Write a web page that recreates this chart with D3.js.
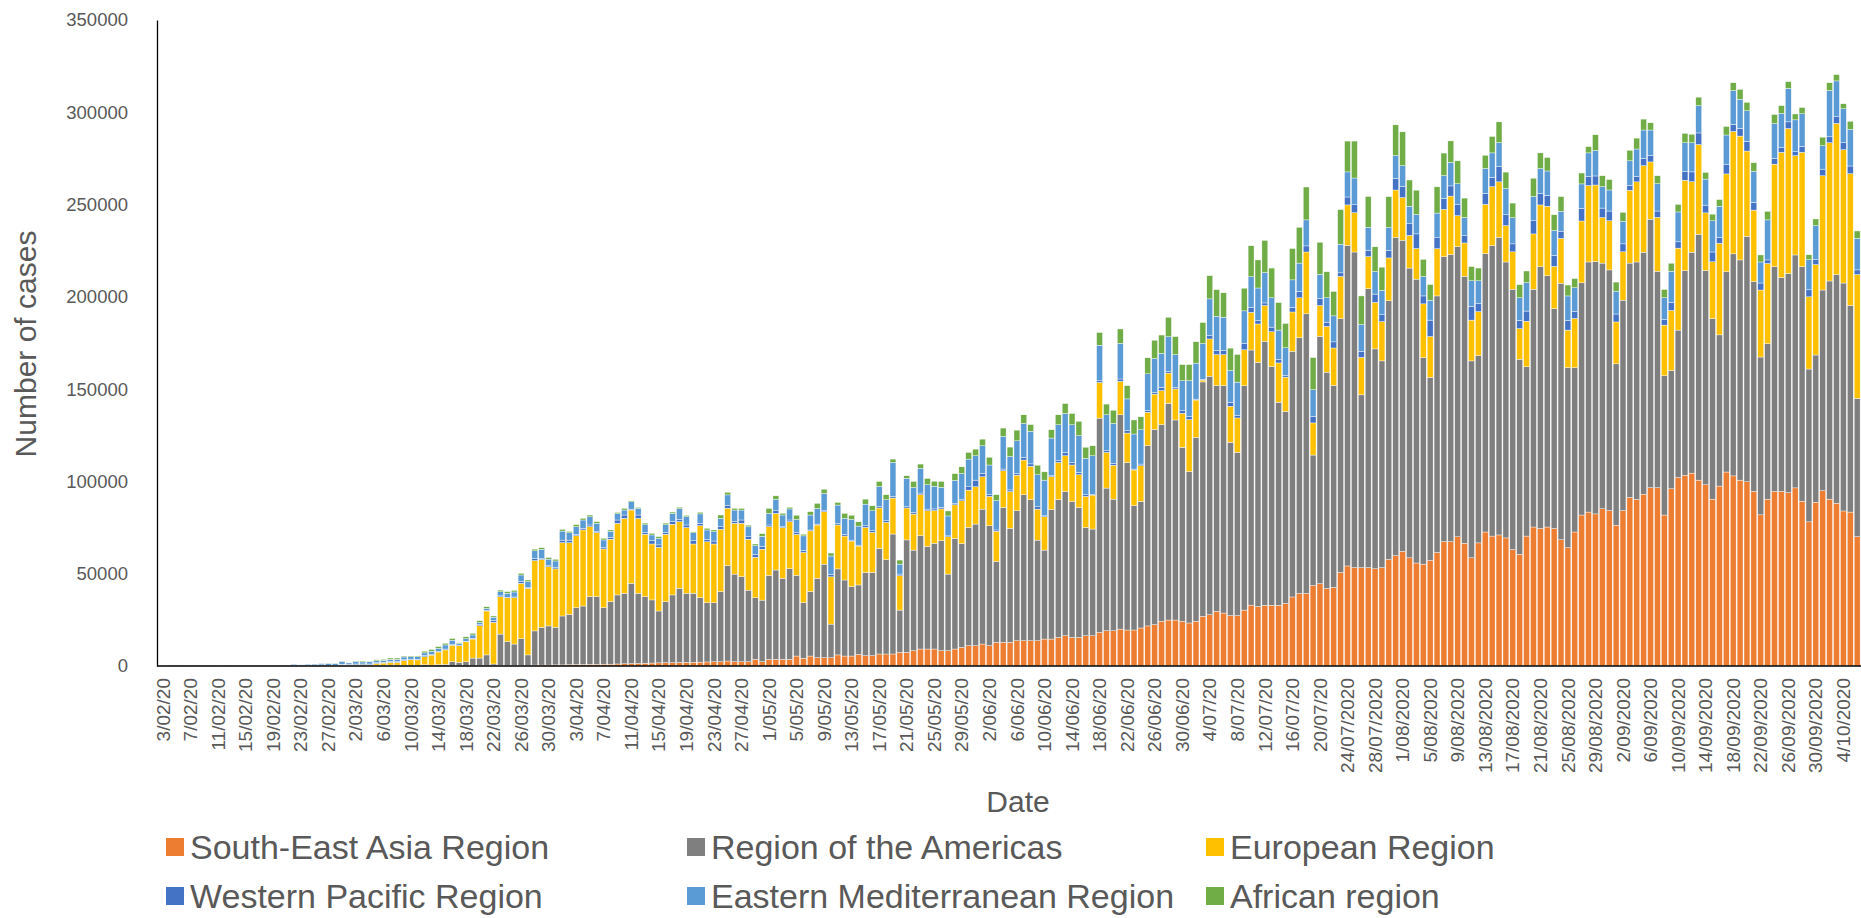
<!DOCTYPE html>
<html>
<head>
<meta charset="utf-8">
<script src="https://cdn.jsdelivr.net/npm/d3@7"></script>
<style>
  body { margin: 0; background: #fff; }
  svg { display: block; font-family: "Liberation Sans", Arial, sans-serif; }
</style>
</head>
<body>
<figure id="casesChart" style="margin:0"></figure>
<script>
// daily cases by WHO region, 3 Feb 2020 .. 7 Oct 2020 (one value per day)
const startDate = new Date(2020, 1, 3);
const dayCount = 248;

const seriesNames = ["South-East Asia Region", "Region of the Americas", "European Region",
  "Western Pacific Region", "Eastern Mediterranean Region", "African region"];
const seriesColors = ["#ED7D31", "#7F7F7F", "#FFC000", "#4472C4", "#5B9BD5", "#70AD47"];

const seaRegion = [
  0,0,0,0,0,0,0,0,0,0,0,0,0,0,0,0,0,0,0,0,0,0,0,0,
  0,0,0,0,0,0,0,100,100,100,100,0,0,0,100,100,100,100,100,100,100,100,200,200,200,300,300,300,400,400,500,500,500,600,600,700,800,800,
  900,900,1000,1000,1100,1200,1300,1400,1500,1600,1700,1800,1800,1900,2000,2000,2100,2200,2300,2300,
  2700,2300,2300,2300,3600,2300,3600,3600,3600,3600,5400,4200,5400,4500,4500,4500,6000,5400,5400,6300,
  5600,5600,6500,6500,6500,7400,7400,8300,9200,9200,9200,8300,8300,9200,10100,11000,11000,11900,11000,12800,
  12800,12800,13700,13700,13700,13700,14600,14600,15500,16400,15500,15500,16400,16400,18200,19100,19100,20000,
  19500,19500,20600,21700,22400,24200,24900,24900,24200,23300,24200,26900,27800,29600,28700,27300,27300,30300,33000,32300,
  32900,32900,32900,33900,37400,39300,39300,43600,44600,42000,42600,50700,54200,53300,53300,53300,52700,53300,57700,
  59800,62100,58600,55800,55200,57200,61500,67400,67400,70000,66500,58600,66700,72600,70400,71000,69400,63100,60500,70400,75300,74500,
  75300,74500,68400,64100,72600,81800,83400,82400,85200,84200,76300,84200,91300,90300,93100,96600,96600,81800,96000,102100,
  103400,104500,100700,98200,90400,97500,105100,103000,100700,99800,94600,81900,90400,94600,94600,93900,96500,89300,78100,88700,95000,90400,88200,84000,83400,70100,80200
];

const americas = [
  0,0,0,0,0,0,0,0,0,0,0,0,0,0,0,0,0,0,0,20,20,50,50,100,
  100,100,300,300,300,300,300,400,400,400,400,300,300,300,600,400,600,800,2200,1900,2200,4200,4100,5800,900,17000,12900,11600,14400,5600,18500,20400,21200,20400,26500,27300,30800,31700,
  36700,36700,30600,33900,37400,38200,43500,38000,36100,34200,28100,33100,36700,40200,37400,37400,34900,32100,32000,38000,
  51700,47500,46100,38800,33400,33400,45500,48400,43900,49100,43700,30200,34900,43000,50700,18200,46600,41200,37600,37600,
  45100,45100,57200,51100,65000,22900,60900,54500,61400,55600,57300,59600,41500,59900,56300,64100,65900,73100,65000,43900,
  73100,61800,70400,79100,76400,54500,48200,70100,74600,78200,73700,70400,58700,57800,116100,77300,71300,116100,
  90800,67400,68600,97700,105800,106600,117400,108400,94300,82000,99700,127000,129200,122300,123200,93900,88500,121500,138200,132200,
  143000,129400,110000,104000,133100,138500,151500,70700,134000,117200,109400,137500,173700,171000,93600,151100,119100,112000,140200,
  172500,168600,157000,153800,111800,99200,139000,154400,155600,157200,144600,106700,101400,150900,157400,161300,149500,141000,105700,91700,128800,141800,
  136100,119100,139000,97600,89100,125800,135500,136800,133100,130400,87400,114000,127000,128600,131100,145500,117300,75500,64100,79900,
  110800,119700,133200,116100,97800,81900,108500,120300,119300,133000,113800,85500,84200,121800,115900,118800,126200,127100,82800,79800,108700,118200,123900,123500,111900,74900,85900
];

const european = [
  0,0,0,0,0,0,0,0,0,0,0,0,0,0,0,0,0,0,0,50,50,100,200,200,
  0,100,300,200,400,400,400,900,1100,1500,1500,2700,3100,3000,4300,5400,6900,7800,9000,9000,10800,10300,17500,23800,22600,20200,23800,25100,30000,36100,38100,36800,32100,31600,39700,38800,39000,41200,
  37900,34700,31800,33800,38800,40600,39700,40600,33800,30300,34500,36500,38300,36100,35600,26700,39000,33000,31800,33800,
  31100,27500,28900,27600,21900,27600,26400,30700,27500,25500,22200,27100,32900,28900,28400,25600,23800,23800,24700,21100,
  24400,21700,21900,20200,19500,18600,17300,19500,22200,19300,17700,17200,20200,18200,23100,20200,20200,17500,15900,16300,
  19900,19900,19300,18800,18100,16800,18100,17900,20200,19300,19700,17700,16800,18400,19300,19300,18400,18100,
  15900,19300,19300,18100,19100,18400,16400,16800,18400,28200,20200,1000,20200,16800,16800,19500,18600,19500,20400,20800,
  19400,18800,21300,18600,21300,21700,33500,17400,16700,24800,20300,22900,21900,21300,20300,17400,25200,21300,23200,
  25600,23100,17700,16600,29200,22100,25600,25600,31600,16800,18100,22100,23900,26600,31900,30000,19700,20300,16600,24700,30000,33500,
  37700,22900,24300,20300,26600,33500,41400,41400,24700,26600,22700,26200,39400,43400,46900,31000,29200,27400,32500,44400,
  49000,38200,48600,31200,30800,49600,53000,66300,67100,46200,38600,36300,43500,55500,67800,78500,53800,61900,39100,49000,61900,74900,81900,72200,71400,67100,88000
];

const westernPacific = [
  250,300,350,300,250,350,300,300,250,300,250,200,250,200,250,200,250,300,350,300,250,250,300,300,
  200,200,400,500,400,400,400,400,400,500,500,400,300,300,700,300,200,500,300,300,300,400,700,300,900,500,200,400,900,500,1100,400,500,700,1400,1400,700,900,
  900,500,700,900,1800,1800,500,1800,900,1800,1300,900,1400,1300,1400,1800,1300,1300,1600,1400,
  1400,900,1800,1300,1600,1600,900,1400,500,900,900,1100,500,500,500,1400,700,900,500,500,
  900,900,700,900,900,900,700,900,900,900,900,900,500,700,900,1800,3600,1800,900,700,
  900,900,900,1400,1300,1300,500,500,900,1800,1400,1300,900,500,900,900,900,1300,
  1300,500,900,900,900,1800,700,900,1400,1600,500,500,1800,2200,2200,2200,1300,3400,2700,1800,
  1400,2500,1900,1000,2500,3500,3300,3500,3900,2300,3300,1900,4300,4300,3300,3500,4500,3700,4100,
  6300,6100,6300,7900,4300,8900,5900,5900,5500,5900,3900,7500,4300,5900,5100,8300,5900,4300,4500,5500,7100,6100,
  5900,5900,3900,5300,3900,6900,4900,4900,5100,5300,4300,4300,2600,3000,3900,3500,3400,3000,4500,3400,
  4900,5300,6300,4200,5300,3200,5300,3800,4200,5300,4200,3800,1900,3200,2500,3600,2100,3200,3800,2700,3600,3200,3600,3800,4200,2500,3200
];

const easternMed = [
  0,0,0,0,0,0,0,0,0,0,0,0,0,0,0,0,50,100,150,500,300,500,500,700,
  1000,900,1600,700,1400,1100,1300,1100,1100,1100,1100,1500,1300,1400,1400,1800,1800,2200,2400,900,1400,1800,1100,1100,1800,2200,2200,2700,3600,3100,4200,5100,3600,3600,4900,4000,4200,4500,
  4500,4500,4200,3400,3400,2700,4000,3600,4200,3100,3600,4200,4500,5800,4500,4300,5100,5100,5100,4500,
  5800,6300,5400,5400,4700,5400,6300,6300,6300,6000,7200,7900,8100,8500,9400,9900,10100,8700,11200,10300,
  11700,10800,11000,11400,18400,5400,15400,13500,13400,13200,12300,10800,10800,12600,13900,15000,13200,15000,16100,15900,
  17700,18100,17700,18400,17700,17300,19300,20400,19500,21100,20400,19900,19700,20800,19300,19500,21700,19300,
  17200,19000,18600,19900,18400,18400,19000,17700,16300,19500,19500,19300,19900,18600,18100,17200,18100,17700,16600,17700,
  16500,15900,15900,14900,14900,15300,14100,14500,13000,13200,14100,15500,13600,14500,14500,12400,12200,13200,12400,
  12400,11200,9500,10500,10500,10800,13400,12400,12800,11400,9900,13800,12400,13600,13200,13000,14200,14200,12200,15400,13200,13600,
  13200,13600,10800,13200,12800,13200,12800,13800,11600,11400,12400,12200,13400,14800,15400,13800,14800,11800,16800,16200,
  15400,15800,14800,14100,16900,16900,15800,18400,15800,16500,16900,11400,21700,18800,18600,18200,17300,17700,16300,18400,12700,25100,19400,18400,19800,17100,22600
];

const african = [
  0,0,0,0,0,0,0,0,0,0,0,0,0,0,0,0,0,0,0,0,0,0,0,0,
  150,100,100,100,200,500,100,500,500,700,700,500,400,400,900,900,900,900,900,400,1000,900,900,900,700,900,900,900,900,900,900,900,900,900,900,700,1100,900,
  900,900,900,700,700,900,500,500,900,900,900,900,700,700,700,500,900,900,900,1800,
  1400,900,900,900,900,1400,2700,1800,900,900,2300,900,1800,2700,2300,1600,1400,2700,2300,2300,
  2700,2700,2700,2700,1800,2200,1400,3300,2300,3400,2700,3200,2700,3600,3600,3600,3600,3600,4200,3200,
  4500,5100,5800,4700,3600,5200,4500,4500,5400,5400,6100,7800,6000,5400,6900,5800,7200,7800,
  7200,7600,7000,8700,9900,9900,10500,9800,8700,8700,11600,11400,12600,14400,13200,12100,15000,12300,16800,15200,
  17400,16100,14900,13200,17000,19400,17800,17400,17400,14100,13200,18800,16700,20000,15500,16700,13400,12600,16700,
  16600,18300,14200,13200,9300,8500,14200,12200,11600,12400,10500,7700,6900,7100,8900,11200,8900,7900,7100,6300,9900,8500,
  7300,8500,7900,5900,4900,5900,3400,8500,5900,5700,4900,4900,5700,5900,5900,3900,4300,4500,4300,4100,
  5100,4600,4600,3600,3600,3600,4600,4200,5300,4600,4600,3800,4600,4900,4200,3600,3200,3400,2700,3600,4600,4200,3400,2700,4400,4000,2000
];

const yTicks = [0, 50000, 100000, 150000, 200000, 250000, 300000, 350000];

// category labels: short year until 20/07, full year afterwards (as in the source sheet)
const categories = d3.timeDay.range(startDate, d3.timeDay.offset(startDate, dayCount))
  .map((d, i) => d3.timeFormat(i < 172 ? "%-d/%m/%y" : "%-d/%m/%Y")(d));
const tickLabels = categories.filter((d, i) => i % 4 === 0);

class CasesChart {

  constructor() {
    this.width = 1861;
    this.height = 918;
    this.margin = { top: 20, left: 157, bottom: 252 };
    this.textColor = "#595959";
  }

  init() {
    this.svg = d3.select("figure#casesChart").append("svg")
      .attr("width", this.width)
      .attr("height", this.height)
      .attr("viewBox", `0 0 ${this.width} ${this.height}`);
  }

  draw() {
    const svg = this.svg;
    const baseY = this.height - this.margin.bottom;   // y of the zero line
    const step = 6.887;

    const keys = ["sea", "amr", "eur", "wpr", "emr", "afr"];
    const table = categories.map((c, i) => ({
      date: c,
      sea: seaRegion[i], amr: americas[i], eur: european[i],
      wpr: westernPacific[i], emr: easternMed[i], afr: african[i]
    }));
    const stacked = d3.stack().keys(keys)(table);

    this.xScale = d3.scaleBand()
      .domain(categories)
      .range([159.5, 159.5 + step * categories.length])
      .paddingInner(0.14)
      .paddingOuter(0.07);
    this.yScale = d3.scaleLinear()
      .domain([0, 350000])
      .range([baseY, this.margin.top]);

    // bars
    const layers = svg.append("g").selectAll("g")
      .data(stacked).enter()
      .append("g")
      .attr("fill", (d, i) => seriesColors[i]);
    layers.selectAll("rect")
      .data(d => d).enter()
      .append("rect")
      .attr("x", d => this.xScale(d.data.date))
      .attr("y", d => this.yScale(d[1]))
      .attr("width", this.xScale.bandwidth())
      .attr("height", d => Math.max(0, this.yScale(d[0]) - this.yScale(d[1])))
      .attr("stroke", "#fff")
      .attr("stroke-width", 0.4);

    // Y Axis
    const yAxis = svg.append("g")
      .attr("transform", `translate(${this.margin.left},0)`)
      .call(d3.axisLeft(this.yScale).tickValues(yTicks).tickSize(0).tickPadding(29).tickFormat(d3.format("d")));
    yAxis.select(".domain").attr("stroke", "#000").attr("stroke-width", 1.3);
    yAxis.selectAll(".tick text")
      .attr("font-size", 18.5)
      .attr("font-family", "Liberation Sans, Arial, sans-serif")
      .attr("fill", this.textColor);

    // X Axis (zero line and rotated date labels)
    svg.append("line")
      .attr("x1", this.margin.left).attr("x2", this.width)
      .attr("y1", baseY).attr("y2", baseY)
      .attr("stroke", "#000").attr("stroke-width", 1.6);
    svg.append("g").selectAll("text")
      .data(tickLabels).enter()
      .append("text")
      .attr("transform", d => `translate(${this.xScale(d) + this.xScale.bandwidth() / 2},${baseY + 12}) rotate(-90)`)
      .attr("text-anchor", "end")
      .attr("dy", "0.35em")
      .attr("font-size", 19)
      .attr("fill", this.textColor)
      .text(d => d);

    // axis titles
    svg.append("text")
      .attr("x", 1018).attr("y", 812)
      .attr("text-anchor", "middle")
      .attr("font-size", 30)
      .attr("fill", this.textColor)
      .text("Date");
    svg.append("text")
      .attr("transform", "translate(36,344) rotate(-90)")
      .attr("text-anchor", "middle")
      .attr("font-size", 30)
      .attr("fill", this.textColor)
      .text("Number of cases");

    // legend, 3 columns x 2 rows
    const colX = [166, 687, 1206];
    const rowY = [847, 896];
    const legend = svg.append("g").selectAll("g")
      .data(seriesNames).enter()
      .append("g")
      .attr("transform", (d, i) => `translate(${colX[i % 3]},${rowY[Math.floor(i / 3)]})`);
    legend.append("rect")
      .attr("x", 0).attr("y", -9)
      .attr("width", 18).attr("height", 18)
      .attr("fill", (d, i) => seriesColors[i]);
    legend.append("text")
      .attr("x", 24)
      .attr("dy", "0.35em")
      .attr("font-size", 34)
      .attr("fill", this.textColor)
      .text(d => d);
  }
}

var casesChart = new CasesChart();
casesChart.init();
casesChart.draw();
</script>
</body>
</html>
